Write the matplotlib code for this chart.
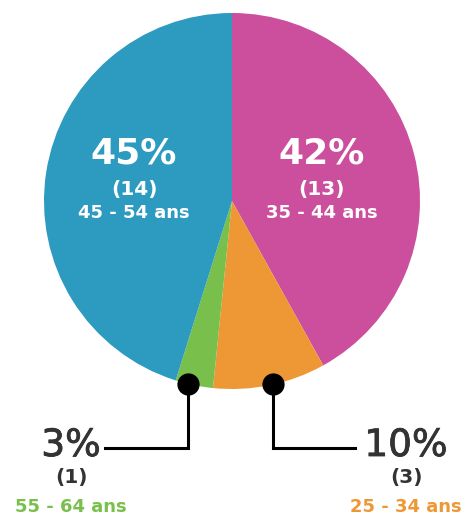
import numpy as np
import matplotlib.pyplot as plt
import matplotlib.patheffects as pe

# age groups, clockwise from 12 o'clock
groups = ['35 - 44 ans', '25 - 34 ans', '55 - 64 ans', '45 - 54 ans']
counts = [13, 3, 1, 14]
colors = ['#cb4f9c', '#ee9735', '#78c04b', '#2d9ac0']

W, H = 461, 523
fig = plt.figure(figsize=(W / 100, H / 100), dpi=100)
ax = fig.add_axes([0, 0, 1, 1])


def py(y):
    # image-style y (from top) to axes y
    return H - y


cx, cy, R = 232, py(201), 188
wedges, _ = ax.pie(counts, colors=colors, startangle=90, counterclock=False,
                   center=(cx, cy), radius=R, frame=True,
                   wedgeprops=dict(linewidth=0))
ax.set_xlim(0, W)
ax.set_ylim(0, H)
ax.set_aspect('equal')
ax.axis('off')

total = sum(counts)
pct = [round(100 * c / total) for c in counts]

# labels inside the two big slices
inside = {0: 322, 3: 134}
for i, x in inside.items():
    ax.text(x, py(153), f'{pct[i]}%', color='white', fontsize=26, fontweight='bold',
            ha='center', va='center')
    ax.text(x, py(190), f'({counts[i]})', color='white', fontsize=14.5, fontweight='bold',
            ha='center', va='center')
    ax.text(x, py(213), groups[i], color='white', fontsize=13, fontweight='bold',
            ha='center', va='center')

# callouts for the two small slices
line_y = py(448)
thick = [pe.withStroke(linewidth=0.6, foreground='#333333')]
callouts = {2: (105, 71, -2), 1: (355, 406, 1)}
for i, (x_end, x_txt, tweak) in callouts.items():
    w = wedges[i]
    mid = np.deg2rad((w.theta1 + w.theta2) / 2 + tweak)
    dx, dy = cx + R * np.cos(mid), cy + R * np.sin(mid)
    ax.plot([dx, dx, x_end], [dy, line_y, line_y], color='black', lw=2.2,
            solid_joinstyle='miter', zorder=3)
    ax.plot(dx, dy, 'o', color='black', markersize=15, zorder=4)
    ax.text(x_txt, py(446), f'{pct[i]}%', color='#333333', fontsize=27,
            ha='center', va='center', path_effects=thick)
    ax.text(x_txt, py(478), f'({counts[i]})', color='#333333', fontsize=14.5,
            fontweight='bold', ha='center', va='center')
    ax.text(x_txt, py(507), groups[i], color=colors[i], fontsize=13,
            fontweight='bold', ha='center', va='center')

fig.savefig('out.png', dpi=100)
